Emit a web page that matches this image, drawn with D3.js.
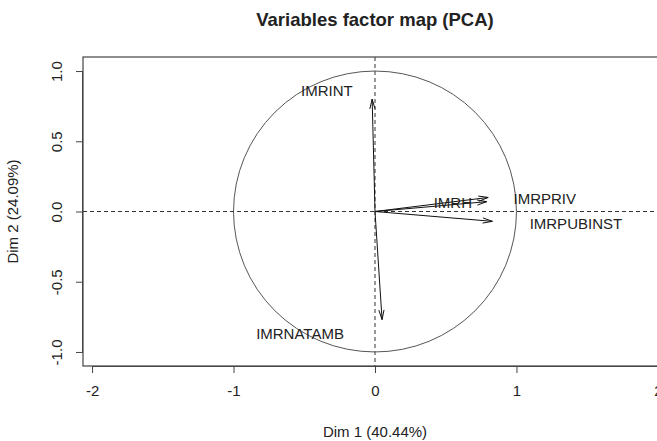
<!DOCTYPE html>
<html>
<head>
<meta charset="utf-8">
<script src="https://cdn.jsdelivr.net/npm/d3@7"></script>
<style>
  html, body { margin: 0; padding: 0; background: #fff; }
  svg { display: block; }
  text { font-family: "Liberation Sans", Arial, sans-serif; fill: #222; }
</style>
</head>
<body>
<svg id="chart" width="657" height="441"></svg>
<script>
// ---- data ----
const variables = ["IMRINT", "IMRNATAMB", "IMRH", "IMRPRIV", "IMRPUBINST"];
const dim1 = [-0.02, 0.05, 0.79, 0.80, 0.83];
const dim2 = [0.80, -0.77, 0.07, 0.10, -0.07];
const labelDim1 = [-0.34, -0.53, 0.55, 1.20, 1.42];
const labelDim2 = [0.86, -0.87, 0.06, 0.09, -0.09];
const xTicks = [-2, -1, 0, 1, 2];
const yTicks = [-1.0, -0.5, 0.0, 0.5, 1.0];
const chartTitle = "Variables factor map (PCA)";
const xTitle = "Dim 1 (40.44%)";
const yTitle = "Dim 2 (24.09%)";

// ---- layout ----
const svg = d3.select("#chart");
const mLeft = 83, mRight = 667, mTop = 57, mBottom = 366;
const x = d3.scaleLinear().domain([-2.064, 2.064]).range([mLeft, mRight]);
const y = d3.scaleLinear().domain([-1.1, 1.1]).range([mBottom, mTop]);
const ink = "#222";
const hyphen = f => v => f(v).replace("\u2212", "-");

svg.append("rect").attr("width", 657).attr("height", 441).attr("fill", "#fff");

// title
svg.append("text").attr("x", x(0)).attr("y", 26)
  .attr("text-anchor", "middle").attr("font-size", 18.5).attr("font-weight", "bold")
  .text(chartTitle);

// box
svg.append("rect").attr("x", mLeft).attr("y", mTop)
  .attr("width", mRight - mLeft).attr("height", mBottom - mTop)
  .attr("fill", "none").attr("stroke", "#444").attr("stroke-width", 1.2);

// axes
const xAxis = d3.axisBottom(x).tickValues(xTicks).tickSize(7).tickPadding(9)
  .tickFormat(hyphen(d3.format("d")));
const gx = svg.append("g").attr("transform", `translate(0,${mBottom})`).call(xAxis);
gx.select(".domain").attr("d", `M${x(-2)},0.5H${x(2)}`).attr("stroke", "#444");
gx.selectAll(".tick line").attr("stroke", "#444");
gx.selectAll(".tick text").attr("font-size", 15).attr("fill", ink)
  .attr("font-family", "Liberation Sans, Arial, sans-serif").attr("dy", "0.9em");

const yAxis = d3.axisLeft(y).tickValues(yTicks).tickSize(7).tickPadding(6)
  .tickFormat(hyphen(d3.format(".1f")));
const gy = svg.append("g").attr("transform", `translate(${mLeft},0)`).call(yAxis);
gy.select(".domain").attr("d", `M-0.5,${y(-1)}V${y(1)}`).attr("stroke", "#444");
gy.selectAll(".tick line").attr("stroke", "#444");
gy.selectAll(".tick text").attr("font-size", 15).attr("fill", ink)
  .attr("font-family", "Liberation Sans, Arial, sans-serif")
  .attr("text-anchor", "middle").attr("x", 0).attr("dy", 0).attr("y", 0)
  .attr("transform", "translate(-21,0) rotate(-90)");

// axis titles
svg.append("text").attr("x", x(0)).attr("y", 437)
  .attr("text-anchor", "middle").attr("font-size", 15).text(xTitle);
svg.append("text").attr("transform", `translate(18,${y(0)}) rotate(-90)`)
  .attr("text-anchor", "middle").attr("font-size", 15).text(yTitle);

// dashed reference lines
svg.append("line").attr("x1", mLeft).attr("x2", mRight).attr("y1", y(0)).attr("y2", y(0))
  .attr("stroke", "#333").attr("stroke-dasharray", "4,3");
svg.append("line").attr("x1", x(0)).attr("x2", x(0)).attr("y1", mTop).attr("y2", mBottom)
  .attr("stroke", "#333").attr("stroke-dasharray", "4,3");

// unit circle
svg.append("ellipse").attr("cx", x(0)).attr("cy", y(0))
  .attr("rx", x(1) - x(0)).attr("ry", y(0) - y(1))
  .attr("fill", "none").attr("stroke", "#555").attr("stroke-width", 1);

// arrows
const data = variables.map((v, i) => ({
  name: v, d1: dim1[i], d2: dim2[i], lx: labelDim1[i], ly: labelDim2[i]
}));
const headLen = 10, headAng = 15 * Math.PI / 180;
const ga = svg.append("g").attr("stroke", "#111").attr("stroke-width", 1).attr("fill", "none");
data.forEach(d => {
  const x0 = x(0), y0 = y(0), x1 = x(d.d1), y1 = y(d.d2);
  const ang = Math.atan2(y1 - y0, x1 - x0);
  ga.append("line").attr("x1", x0).attr("y1", y0).attr("x2", x1).attr("y2", y1);
  const p = [ang + Math.PI - headAng, ang + Math.PI + headAng].map(a =>
    [x1 + headLen * Math.cos(a), y1 + headLen * Math.sin(a)]);
  ga.append("path").attr("d", `M${p[0][0]},${p[0][1]}L${x1},${y1}L${p[1][0]},${p[1][1]}`);
});

// labels
svg.append("g").selectAll("text").data(data).join("text")
  .attr("x", d => x(d.lx)).attr("y", d => y(d.ly))
  .attr("text-anchor", "middle").attr("dy", "0.35em")
  .attr("font-size", 15).attr("fill", "#222")
  .text(d => d.name);
</script>
</body>
</html>
